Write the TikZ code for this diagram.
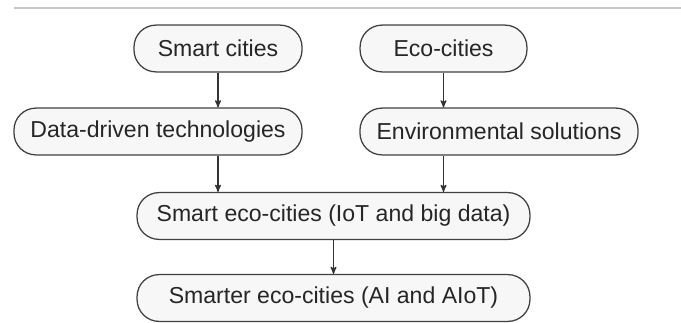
\documentclass[tikz,border=0pt]{standalone}
\usepackage{fontspec}
\setmainfont{Liberation Sans}
\usepackage{tikz}
\usetikzlibrary{arrows,positioning,calc}

\begin{document}
\begin{tikzpicture}[>=stealth', x=0.025cm, y=-0.025cm,
        pill/.style={rectangle,rounded corners=0.55cm,draw=black!75,line width=0.9pt,
          fill=black!3,text=black!85,inner sep=0pt,minimum height=1.17cm,
          font=\fontsize{16.4}{19}\selectfont},
        link/.style={draw=black!80,line width=0.85pt,->}]
        \useasboundingbox (0,0) rectangle (681,322);
        \draw[black!22,line width=1.4pt] (14,8) -- (681,8);
        \node[pill,minimum width=4.2cm]   at (218,48.5)  (smart) {Smart cities};
        \node[pill,minimum width=4.17cm]  at (443.5,48.5)  (eco) {Eco-cities};
        \node[pill,minimum width=7.2cm]   at (158,131.5) (data) {Data-driven technologies};
        \node[pill,minimum width=6.95cm]  at (499,131.5) (env) {Environmental solutions};
        \node[pill,minimum width=9.82cm]  at (333.5,216) (ecosmart) {Smart eco-cities (IoT and big data)};
        \node[pill,minimum width=9.82cm]  at (333.5,298) (ecosmarter) {Smarter eco-cities (AI and AIoT)};
        \draw[link] (smart) to (smart |- data.north);
        \draw[link] (eco) to (eco |- env.north);
        \draw[link] (data.south -| smart) to (ecosmart.north -| smart);
        \draw[link] (env.south -| eco) to (ecosmart.north -| eco);
        \draw[link] (ecosmart) to (ecosmarter);
      \end{tikzpicture}
\end{document}
